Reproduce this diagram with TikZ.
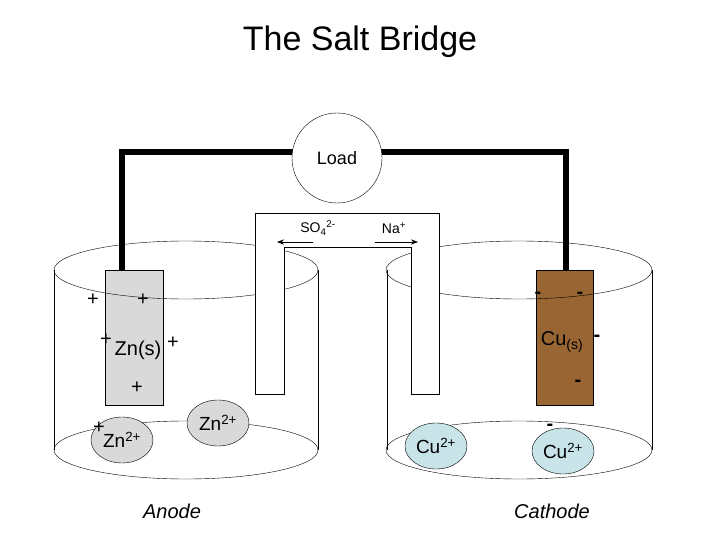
\documentclass[tikz,border=0pt]{standalone}
\usepackage{fontspec}
\setmainfont{Liberation Sans}
\usetikzlibrary{arrows.meta,positioning,shapes.geometric}
\definecolor{copper}{RGB}{153,102,51}
\definecolor{cuion}{RGB}{200,228,232}
\tikzset{
  ion/.style={draw,ellipse,minimum width=62pt,minimum height=46pt,inner sep=0pt,font=\fontsize{19}{19}\selectfont},
  sign/.style={font=\fontsize{20}{20}\selectfont,inner sep=0pt},
  neg/.style={font=\fontsize{20}{20}\selectfont\bfseries,inner sep=0pt},
  wire/.style={line width=6pt},
}
\begin{document}
\begin{tikzpicture}[x=1pt,y=-1pt]
    \useasboundingbox (0,0) rectangle (720,540);

    % Title
    \node (title) at (360,42) {\fontsize{34}{34}\selectfont The Salt Bridge};

    % Beakers
    \draw (54,270) -- (54,450) (318,270) -- (318,450);
    \draw (387,270) -- (387,450) (652,270) -- (652,450);
    \draw (186,450) ellipse (132 and 29);
    \draw (519,450) ellipse (133 and 29);

    % Wire and load
    \draw[wire] (122,290) |- (566,152) -- (566,290);
    \node[draw,fill=white,circle,minimum size=90pt] (load) at (337,158) {};
    \node[font=\fontsize{18}{18}\selectfont] at (337,158) {Load};

    % Electrodes
    \node[draw,fill=gray!30,minimum width=58pt,minimum height=135pt,inner sep=0pt] (zn) at (134,338) {};
    \node[draw,fill=copper,minimum width=57pt,minimum height=135pt,inner sep=0pt] (cu) at (565,338) {};
    \node[font=\fontsize{20}{20}\selectfont] (zns) at (138,350) {Zn(s)};
    \node[font=\fontsize{20}{20}\selectfont] (cus) at (562,342) {Cu\textsubscript{(s)}};

    % Top ellipses (drawn over the electrodes)
    \draw (186,270) ellipse (132 and 29);
    \draw (519,270) ellipse (133 and 29);

    % Salt bridge
    \draw[fill=white] (255,394) -- (255,213) -- (439,213) -- (439,394) -- (411,394)
        -- (411,247) -- (284,247) -- (284,394) -- cycle;
    \node[font=\fontsize{14}{14}\selectfont] (so4) at (318,228) {SO\textsubscript{4}\textsuperscript{2-}};
    \node[font=\fontsize{14}{14}\selectfont] (na) at (394,228) {Na\textsuperscript{+}};
    \coordinate (so4a) at (313,242);
    \coordinate (so4b) at (277,242);
    \coordinate (naa) at (375,242);
    \coordinate (nab) at (418,242);
    \draw[-{Stealth[length=7pt]},thick] (so4a) -- (so4b);
    \draw[-{Stealth[length=7pt]},thick] (naa) -- (nab);

    % Ions
    \node[ion,fill=gray!30] (zn1) at (122,440) {Zn\textsuperscript{2+}};
    \node[ion,fill=gray!30] (zn2) at (218,423) {Zn\textsuperscript{2+}};
    \node[ion,fill=cuion] (cu1) at (436,446) {Cu\textsuperscript{2+}};
    \node[ion,fill=cuion] (cu2) at (563,451) {Cu\textsuperscript{2+}};

    % Charges
    \foreach \p in {(93,300),(143,300),(106,340),(173,343),(137,388),(99,428)}
        \node[sign] at \p {+};
    \foreach \p in {(538,295),(580,295),(597,338),(578,383),(550,427)}
        \node[neg] at \p {-};

    % Labels
    \node[font=\fontsize{20}{20}\selectfont\itshape] (anode) at (172,511) {Anode};
    \node[font=\fontsize{20}{20}\selectfont\itshape] (cathode) at (552,511) {Cathode};
\end{tikzpicture}
\end{document}
